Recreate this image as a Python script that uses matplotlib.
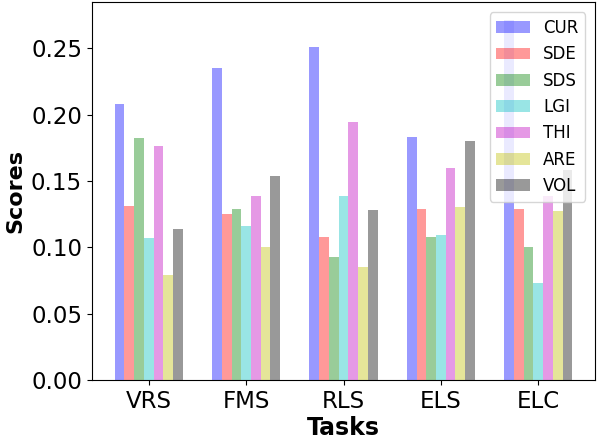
import numpy as np
import matplotlib
matplotlib.use('Agg')
import matplotlib.pyplot as plt

tasks = ['VRS', 'FMS', 'RLS', 'ELS', 'ELC']
methods = ['CUR', 'SDE', 'SDS', 'LGI', 'THI', 'ARE', 'VOL']
colors = ['b', 'r', 'g', 'c', 'm', 'y', 'k']

cur = [0.208, 0.235, 0.251, 0.183, 0.271]
sde = [0.131, 0.125, 0.108, 0.129, 0.129]
sds = [0.182, 0.129, 0.093, 0.108, 0.100]
lgi = [0.107, 0.116, 0.139, 0.109, 0.073]
thi = [0.176, 0.139, 0.194, 0.160, 0.139]
are = [0.079, 0.100, 0.085, 0.130, 0.127]
vol = [0.114, 0.154, 0.128, 0.180, 0.158]

scores = [cur, sde, sds, lgi, thi, are, vol]

x = np.arange(len(tasks))
width = 0.1

fig, ax = plt.subplots(figsize=(6, 4.4), dpi=100)
for i, (name, vals) in enumerate(zip(methods, scores)):
    ax.bar(x + (i - 3) * width, vals, width, color=colors[i], alpha=0.4, label=name)

ax.set_xticks(x)
ax.set_xticklabels(tasks, fontsize=16.5)
ax.tick_params(axis='y', labelsize=16.5)
ax.set_xlabel('Tasks', fontsize=17, fontweight='bold', labelpad=2.5)
ax.set_ylabel('Scores', fontsize=16, fontweight='bold')
ax.legend(loc='upper right', fontsize=12, borderaxespad=0.6)

plt.subplots_adjust(left=0.153, right=0.992, top=0.995, bottom=0.136)
plt.savefig('out.png')
